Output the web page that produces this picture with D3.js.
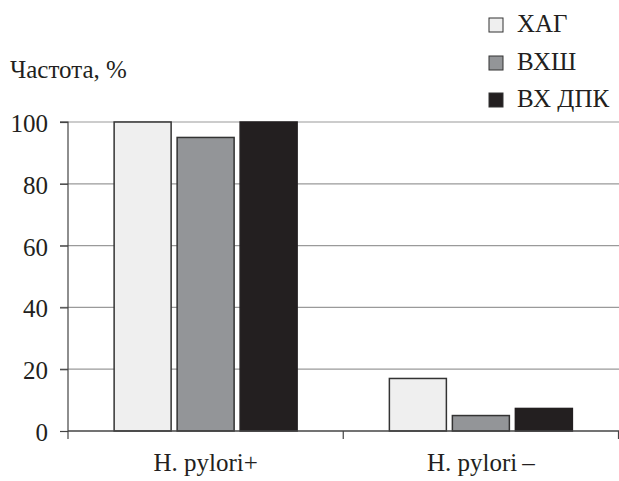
<!DOCTYPE html>
<html><head><meta charset="utf-8">
<script src="https://cdn.jsdelivr.net/npm/d3@7"></script>
</head><body style="margin:0">
<script>
const categories = ["H. pylori+", "H. pylori\u2009\u2013"];
const seriesNames = ["ХАГ", "ВХШ", "ВХ ДПК"];
const valuesHAG = [100, 17];
const valuesVHSh = [95, 5];
const valuesVHDPK = [100, 7.3];
const yTicks = [0, 20, 40, 60, 80, 100];
const colors = ["#efefef", "#939598", "#231f20"];
const seriesValues = [valuesHAG, valuesVHSh, valuesVHDPK];

const FONT = '"C059"';
const FS = 25;
const W = 619, H = 481;
const svg = d3.select("body").append("svg").attr("width", W).attr("height", H)
  .style("display", "block");

const x0 = d3.scaleBand().domain(categories).range([68, W - 0.5]);
const x1 = d3.scaleBand().domain(seriesNames).range([0, 183]).paddingInner(0.0952);
const y = d3.scaleLinear().domain([0, 100]).range([431, 122]);

function txt(sel) { return sel.style("font-family", FONT).attr("font-size", FS).attr("fill", "#231f20"); }

// gridlines
svg.append("g").selectAll("line").data(yTicks.filter(d => d > 0)).join("line")
  .attr("x1", 60).attr("x2", W).attr("y1", d => y(d)).attr("y2", d => y(d))
  .attr("stroke", "#9a9a9a").attr("stroke-width", 1.2);

// y axis
const ya = svg.append("g").attr("transform", "translate(68,0)")
  .call(d3.axisLeft(y).tickValues(yTicks).tickSize(8).tickPadding(12));
ya.attr("font-family", null).attr("font-size", null);
ya.select(".domain").attr("stroke", "#444").attr("stroke-width", 1.2).attr("d", `M-8,${y(100)}H0V${y(0)}`);
ya.selectAll(".tick line").attr("stroke", "#444").attr("stroke-width", 1.2);
txt(ya.selectAll(".tick text")).attr("dy", "0.38em");

// bars
const groups = svg.append("g").selectAll("g").data(categories).join("g")
  .attr("transform", c => `translate(${x0(c) + (x0.bandwidth() - 183) / 2},0)`);
groups.selectAll("rect").data((c, ci) => seriesNames.map((s, si) => ({s, si, v: seriesValues[si][ci]}))).join("rect")
  .attr("x", d => x1(d.s)).attr("width", x1.bandwidth())
  .attr("y", d => y(d.v)).attr("height", d => y(0) - y(d.v))
  .attr("fill", d => colors[d.si])
  .attr("stroke", d => d.si === 2 ? "#231f20" : "#333").attr("stroke-width", 1.5);

// x axis
const xa = svg.append("g").attr("transform", `translate(0,${y(0)})`);
xa.append("line").attr("x1", 68).attr("x2", W).attr("y1", 0).attr("y2", 0).attr("stroke", "#444").attr("stroke-width", 1.5);
const xt = [x0(categories[0]), x0(categories[1]), x0(categories[1]) + x0.bandwidth()];
xa.selectAll("line.t").data(xt).join("line").attr("class", "t")
  .attr("x1", d => d).attr("x2", d => d).attr("y1", 0).attr("y2", 8).attr("stroke", "#444").attr("stroke-width", 1.2);
txt(xa.selectAll("text.c").data(categories).join("text").attr("class", "c")
  .attr("x", c => x0(c) + x0.bandwidth() / 2).attr("y", 40).attr("text-anchor", "middle")).text(d => d);

// y title
txt(svg.append("text").attr("x", 10).attr("y", 78)).text("Частота, %");

// legend
const lg = svg.append("g").selectAll("g").data(seriesNames).join("g")
  .attr("transform", (d, i) => `translate(489,${[18, 56, 93][i]})`);
lg.append("rect").attr("width", 14).attr("height", 14).attr("fill", (d, i) => colors[i])
  .attr("stroke", "#333").attr("stroke-width", 1);
txt(lg.append("text").attr("x", 28).attr("y", 14)).text(d => d);
</script>
</body></html>
